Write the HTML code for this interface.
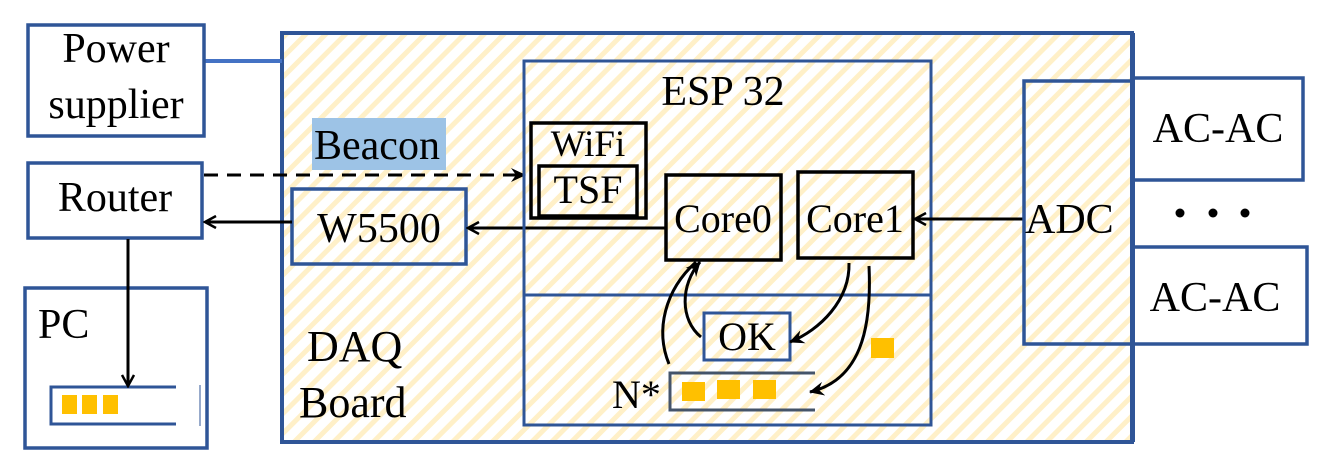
<!DOCTYPE html>
<html><head><meta charset="utf-8"><style>
html,body{margin:0;padding:0;background:#fff;}
svg{display:block;}
</style></head><body>
<svg width="1329" height="459" viewBox="0 0 1329 459" xmlns="http://www.w3.org/2000/svg" font-family="'Liberation Serif', 'Times New Roman', serif">
<defs>
<pattern id="h" patternUnits="userSpaceOnUse" width="14" height="14" patternTransform="rotate(45)">
<rect width="14" height="14" fill="#fff"/>
<rect width="5" height="14" fill="#fff0c8"/>
</pattern>
<marker id="a" markerWidth="14" markerHeight="14" refX="12" refY="7" orient="auto" markerUnits="userSpaceOnUse">
<path d="M1,1 L12,7 L1,13" fill="none" stroke="#000" stroke-width="2.5"/>
</marker>
<marker id="af" markerWidth="16" markerHeight="16" refX="14" refY="8" orient="auto" markerUnits="userSpaceOnUse">
<path d="M0,1 L15,8 L0,15 L5,8 Z" fill="#000"/>
</marker>
</defs>
<g font-family="Liberation Serif, serif" fill="#000">
<rect x="282" y="33" width="850" height="409" fill="url(#h)" stroke="#2f5597" stroke-width="4"/>
<line x1="204" y1="61" x2="282" y2="61" stroke="#4472c4" stroke-width="4"/>
<rect x="28" y="25" width="176" height="111" fill="#fff" stroke="#2f5597" stroke-width="3.5"/>
<text x="116" y="62" font-size="42" text-anchor="middle">Power</text>
<text x="116" y="118" font-size="42" text-anchor="middle">supplier</text>
<rect x="28" y="163" width="174" height="75" fill="#fff" stroke="#2f5597" stroke-width="3.5"/>
<text x="115" y="211" font-size="42" text-anchor="middle">Router</text>
<rect x="25" y="288" width="182" height="160" fill="#fff" stroke="#2f5597" stroke-width="3.5"/>
<text x="38" y="338" font-size="42">PC</text>
<path d="M176,387 L51,387 L51,424 L176,424" fill="none" stroke="#2f5597" stroke-width="3"/>
<line x1="200" y1="385" x2="200" y2="426" stroke="#2f5597" stroke-width="1"/>
<rect x="62" y="395" width="15" height="19" fill="#ffc000"/>
<rect x="82" y="395" width="15" height="19" fill="#ffc000"/>
<rect x="103" y="395" width="15" height="19" fill="#ffc000"/>
<line x1="128" y1="239" x2="128" y2="386" stroke="#000" stroke-width="3" marker-end="url(#a)"/>
<rect x="312" y="118" width="134" height="52" fill="#9dc3e6"/>
<text x="314" y="159" font-size="42">Beacon</text>
<line x1="204" y1="175" x2="525" y2="175" stroke="#000" stroke-width="3" stroke-dasharray="14,9" marker-end="url(#af)"/>
<rect x="292" y="189" width="174" height="75" fill="none" stroke="#2f5597" stroke-width="3.5"/>
<text x="379" y="242" font-size="42" text-anchor="middle">W5500</text>
<line x1="292" y1="222" x2="205" y2="222" stroke="#000" stroke-width="3" marker-end="url(#a)"/>
<line x1="665" y1="228" x2="468" y2="228" stroke="#000" stroke-width="3" marker-end="url(#a)"/>
<text x="307" y="361" font-size="44">DAQ</text>
<text x="299" y="417" font-size="44">Board</text>
<rect x="524" y="61" width="407" height="364" fill="none" stroke="#2f5597" stroke-width="3"/>
<line x1="524" y1="295" x2="931" y2="295" stroke="#2f5597" stroke-width="3"/>
<text x="723" y="105" font-size="42" text-anchor="middle">ESP 32</text>
<rect x="531" y="123" width="115" height="95" fill="none" stroke="#000" stroke-width="3.5"/>
<text x="588" y="156" font-size="37" text-anchor="middle">WiFi</text>
<rect x="539" y="166" width="98" height="50" fill="none" stroke="#000" stroke-width="3.5"/>
<text x="588" y="203" font-size="40" text-anchor="middle">TSF</text>
<rect x="666" y="175" width="115" height="85" fill="none" stroke="#000" stroke-width="3.5"/>
<text x="723" y="232" font-size="40" text-anchor="middle">Core0</text>
<rect x="798" y="172" width="115" height="86" fill="none" stroke="#000" stroke-width="3.5"/>
<text x="855" y="232" font-size="40" text-anchor="middle">Core1</text>
<line x1="1024" y1="219" x2="915" y2="219" stroke="#000" stroke-width="3" marker-end="url(#a)"/>
<rect x="704" y="313" width="86" height="47" fill="none" stroke="#2f5597" stroke-width="3"/>
<text x="747" y="350" font-size="40" text-anchor="middle">OK</text>
<path d="M815,373 L670,373 L670,410 L815,410" fill="none" stroke="#44546a" stroke-width="3"/>
<rect x="682" y="382" width="23" height="19" fill="#ffc000"/>
<rect x="717" y="380" width="23" height="19" fill="#ffc000"/>
<rect x="753" y="380" width="23" height="19" fill="#ffc000"/>
<rect x="871" y="338" width="23" height="20" fill="#ffc000"/>
<text x="612" y="408" font-size="40">N*</text>
<path d="M849,263 C850,300 820,330 790,342" fill="none" stroke="#000" stroke-width="3" marker-end="url(#af)"/>
<path d="M869,266 C872,330 860,380 810,392" fill="none" stroke="#000" stroke-width="3" marker-end="url(#af)"/>
<path d="M701,337 C680,320 680,285 700,262" fill="none" stroke="#000" stroke-width="3" marker-end="url(#af)"/>
<path d="M669,364 C655,330 665,290 696,262" fill="none" stroke="#000" stroke-width="3"/>
<rect x="1024" y="81" width="109" height="263" fill="none" stroke="#2f5597" stroke-width="3.5"/>
<text x="1025" y="233" font-size="42">ADC</text>
<rect x="1133" y="78" width="170" height="102" fill="#fff" stroke="#2f5597" stroke-width="3.5"/>
<text x="1218" y="142" font-size="42" text-anchor="middle">AC-AC</text>
<rect x="1133" y="247" width="174" height="97" fill="#fff" stroke="#2f5597" stroke-width="3.5"/>
<text x="1215" y="311" font-size="42" text-anchor="middle">AC-AC</text>
<line x1="1133" y1="33" x2="1133" y2="442" stroke="#2f5597" stroke-width="4"/>
<circle cx="1180" cy="213" r="4.5" fill="#000"/>
<circle cx="1213" cy="213" r="4.5" fill="#000"/>
<circle cx="1245" cy="213" r="4.5" fill="#000"/>
</g>
</svg>
</body></html>
